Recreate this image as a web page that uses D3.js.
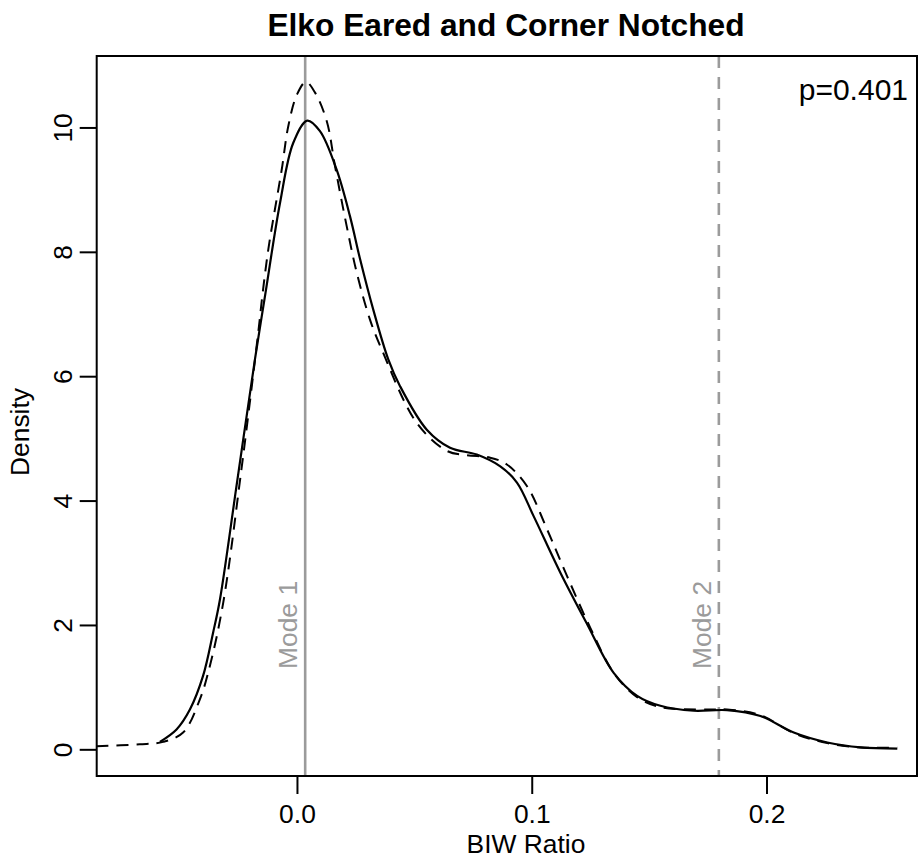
<!DOCTYPE html>
<html>
<head>
<meta charset="utf-8">
<script src="https://cdn.jsdelivr.net/npm/d3@7"></script>
<style>
  html, body { margin: 0; padding: 0; background: #fff; }
  svg { display: block; font-family: "Liberation Sans", Arial, Helvetica, sans-serif; }
</style>
</head>
<body>
<svg id="chart" width="919" height="861"></svg>
<script>
// ---- data ----
const title = "Elko Eared and Corner Notched";
const xLabel = "BIW Ratio";
const yLabel = "Density";
const pLabel = "p=0.401";
const xTicks = [0.0, 0.1, 0.2];
const yTicks = [0, 2, 4, 6, 8, 10];
const xDomain = [-0.0853, 0.2641];
const yDomain = [-0.429, 11.149];

const solidX = [-0.0584, -0.0513, -0.0456, -0.0400, -0.0357, -0.0328, -0.0255, -0.0179, -0.0134, -0.0072, -0.0016,
  0.0044, 0.0098, 0.0169, 0.0226, 0.0269, 0.0325, 0.0389, 0.0439, 0.0553, 0.0652, 0.0766, 0.0866, 0.0937,
  0.1008, 0.1122, 0.1235, 0.1349, 0.1449, 0.1548, 0.1690, 0.1832, 0.1974, 0.2116, 0.2259, 0.2401, 0.2557];
const solidY = [0.12, 0.32, 0.64, 1.18, 1.88, 2.41, 4.30, 6.27, 7.34, 8.79, 9.75,
  10.11, 9.94, 9.32, 8.57, 7.88, 7.07, 6.27, 5.84, 5.14, 4.85, 4.74, 4.55, 4.29,
  3.75, 2.84, 2.02, 1.23, 0.86, 0.70, 0.62, 0.63, 0.535, 0.27, 0.11, 0.03, 0.01];

const dashX = [-0.0854, -0.0670, -0.0570, -0.0485, -0.0414, -0.0371, -0.0314, -0.0240, -0.0165, -0.0146, -0.0122,
  -0.0094, -0.0065, -0.0037, 0.0000, 0.0038, 0.0077, 0.0127, 0.0162, 0.0212, 0.0255, 0.0311, 0.0361,
  0.0510, 0.0638, 0.0724, 0.0823, 0.0894, 0.0980, 0.1065, 0.1150, 0.1250, 0.1349, 0.1449, 0.1548,
  0.1747, 0.1832, 0.1974, 0.2116, 0.2259, 0.2401, 0.2557];
const dashY = [0.05, 0.08, 0.12, 0.27, 0.80, 1.34, 2.36, 4.40, 6.70, 7.34, 8.04,
  8.68, 9.32, 10.02, 10.53, 10.73, 10.56, 10.10, 9.38, 8.41, 7.66, 6.91, 6.43,
  5.25, 4.80, 4.73, 4.69, 4.58, 4.23, 3.54, 2.79, 1.95, 1.23, 0.84, 0.68,
  0.64, 0.64, 0.55, 0.26, 0.10, 0.03, 0.03];

const modes = [0.0035, 0.1797];
const modeLabels = ["Mode 1", "Mode 2"];
const modeLabelY = 2.0;

// ---- layout ----
const svg = d3.select("#chart");
const L = 96.7, R = 917, T = 56, B = 776;
const x = d3.scaleLinear().domain(xDomain).range([L, R]);
const y = d3.scaleLinear().domain(yDomain).range([B, T]);

svg.append("defs").append("clipPath").attr("id", "clip")
  .append("rect").attr("x", L).attr("y", T).attr("width", R - L).attr("height", B - T);

const plot = svg.append("g").attr("clip-path", "url(#clip)");

// mode lines
plot.append("line")
  .attr("x1", x(modes[0])).attr("x2", x(modes[0])).attr("y1", T).attr("y2", B)
  .attr("stroke", "#9b9b9b").attr("stroke-width", 2.6);
plot.append("line")
  .attr("x1", x(modes[1])).attr("x2", x(modes[1])).attr("y1", T).attr("y2", B)
  .attr("stroke", "#9b9b9b").attr("stroke-width", 2.6).attr("stroke-dasharray", "12,9");

const line = d3.line().x(d => x(d[0])).y(d => y(d[1])).curve(d3.curveCatmullRom.alpha(0.5));
const solid = solidX.map((v, i) => [v, solidY[i]]);
const dashed = dashX.map((v, i) => [v, dashY[i]]);

plot.append("path").datum(dashed).attr("d", line)
  .attr("fill", "none").attr("stroke", "#000").attr("stroke-width", 2)
  .attr("stroke-dasharray", "12,8");
plot.append("path").datum(solid).attr("d", line)
  .attr("fill", "none").attr("stroke", "#000").attr("stroke-width", 2.2);

// mode labels
modes.forEach((m, i) => {
  svg.append("text")
    .attr("transform", `translate(${x(m) - 8},${y(modeLabelY)}) rotate(-90)`)
    .attr("text-anchor", "middle")
    .attr("font-size", 26.4).attr("fill", "#9b9b9b")
    .text(modeLabels[i]);
});

// box
svg.append("rect").attr("x", L).attr("y", T).attr("width", R - L).attr("height", B - T)
  .attr("fill", "none").attr("stroke", "#000").attr("stroke-width", 2);

// x axis
const gx = svg.append("g").attr("transform", `translate(0,${B})`)
  .call(d3.axisBottom(x).tickValues(xTicks).tickFormat(d3.format(".1f")).tickSize(18).tickSizeOuter(0));
gx.select(".domain").remove();
gx.selectAll(".tick line").attr("stroke", "#000").attr("stroke-width", 2);
gx.selectAll(".tick text").attr("y", 46.7).attr("dy", 0)
  .attr("font-size", 26.4).attr("fill", "#000")
  .attr("font-family", "Liberation Sans, Arial, sans-serif");

// y axis
const gy = svg.append("g").attr("transform", `translate(${L},0)`)
  .call(d3.axisLeft(y).tickValues(yTicks).tickFormat(d3.format("d")).tickSize(17).tickSizeOuter(0));
gy.select(".domain").remove();
gy.selectAll(".tick line").attr("stroke", "#000").attr("stroke-width", 2);
gy.selectAll(".tick text")
  .attr("x", null).attr("dy", null)
  .attr("transform", "translate(-25,0) rotate(-90)")
  .attr("text-anchor", "middle")
  .attr("font-size", 26.4).attr("fill", "#000")
  .attr("font-family", "Liberation Sans, Arial, sans-serif");

// labels
svg.append("text").attr("x", 506).attr("y", 36).attr("text-anchor", "middle")
  .attr("font-size", 31.7).attr("font-weight", "bold").text(title);
svg.append("text").attr("x", 526).attr("y", 853).attr("text-anchor", "middle")
  .attr("font-size", 26.4).text(xLabel);
svg.append("text").attr("transform", `translate(29,432) rotate(-90)`).attr("text-anchor", "middle")
  .attr("font-size", 26.4).text(yLabel);
svg.append("text").attr("x", 908).attr("y", 100).attr("text-anchor", "end")
  .attr("font-size", 30).text(pLabel);
</script>
</body>
</html>
